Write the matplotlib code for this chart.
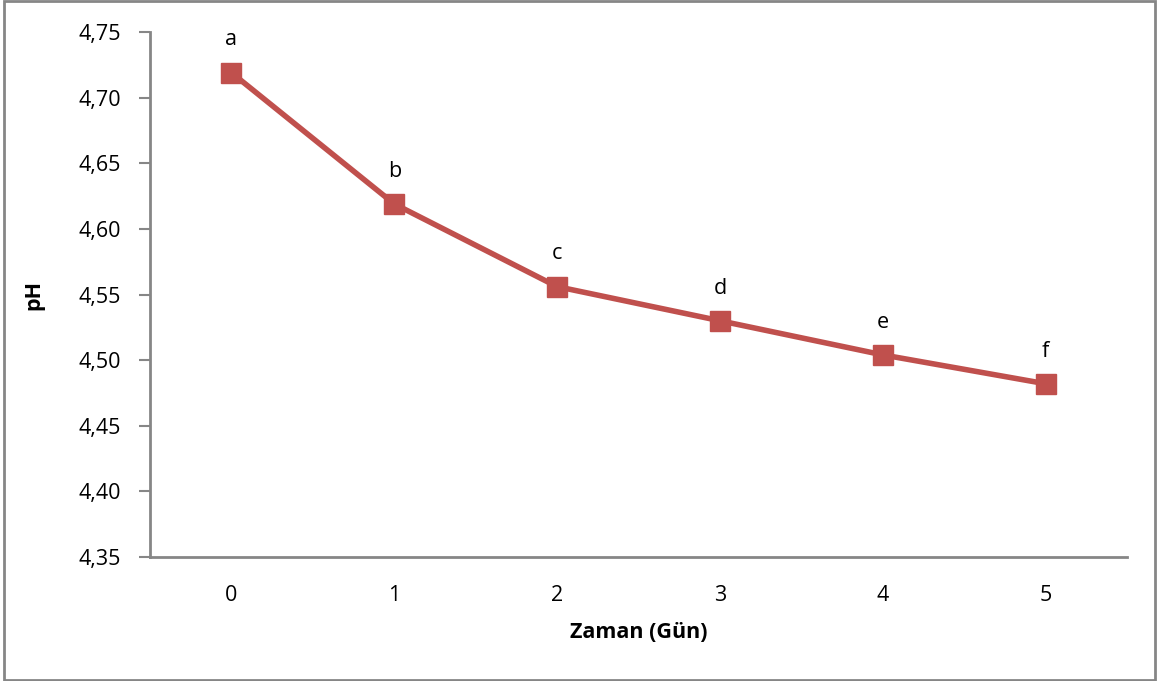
import matplotlib
matplotlib.use("Agg")
import matplotlib.pyplot as plt
from matplotlib.patches import Rectangle

days = [0, 1, 2, 3, 4, 5]
ph = [4.719, 4.619, 4.556, 4.530, 4.504, 4.482]
letters = ["a", "b", "c", "d", "e", "f"]
yticks = [4.35, 4.40, 4.45, 4.50, 4.55, 4.60, 4.65, 4.70, 4.75]

plt.rcParams['font.family'] = ['Open Sans', 'DejaVu Sans']
color = "#C0504D"
grey = "#868686"
fs = 15.5

fig = plt.figure(figsize=(11.57, 6.81), dpi=100)
ax = fig.add_axes([150/1157, 1-557/681, (1127-150)/1157, (557-32)/681])

ax.plot(days, ph, color=color, lw=4, marker='s', markersize=14, zorder=3)
for x, y, t in zip(days, ph, letters):
    ax.annotate(t, (x, y), xytext=(0, 16), textcoords='offset points',
                ha='center', va='bottom', fontsize=fs)

ax.set_xlim(-0.5, 5.5)
ax.set_ylim(4.35, 4.75)
ax.set_yticks(yticks)
ax.set_yticklabels([f"{v:.2f}".replace('.', ',') for v in yticks], fontsize=fs)
ax.set_xticks(days)
ax.set_xticklabels([str(d) for d in days], fontsize=fs)
ax.tick_params(axis='x', length=0, pad=20)
ax.tick_params(axis='y', length=8, width=1.5, color=grey, pad=13)
for s in ['top', 'right']:
    ax.spines[s].set_visible(False)
for s in ['left', 'bottom']:
    ax.spines[s].set_color(grey)
    ax.spines[s].set_linewidth(2)

ax.set_xlabel("Zaman (Gün)", fontsize=fs, fontweight='bold', labelpad=12)
ax.set_ylabel("pH", fontsize=fs, fontweight='bold', labelpad=24)

fig.patches.append(Rectangle((4/1157, 1/681), 1151/1157, 679/681, transform=fig.transFigure,
                             fill=False, edgecolor=grey, linewidth=2))

fig.savefig("out.png", dpi=100)
